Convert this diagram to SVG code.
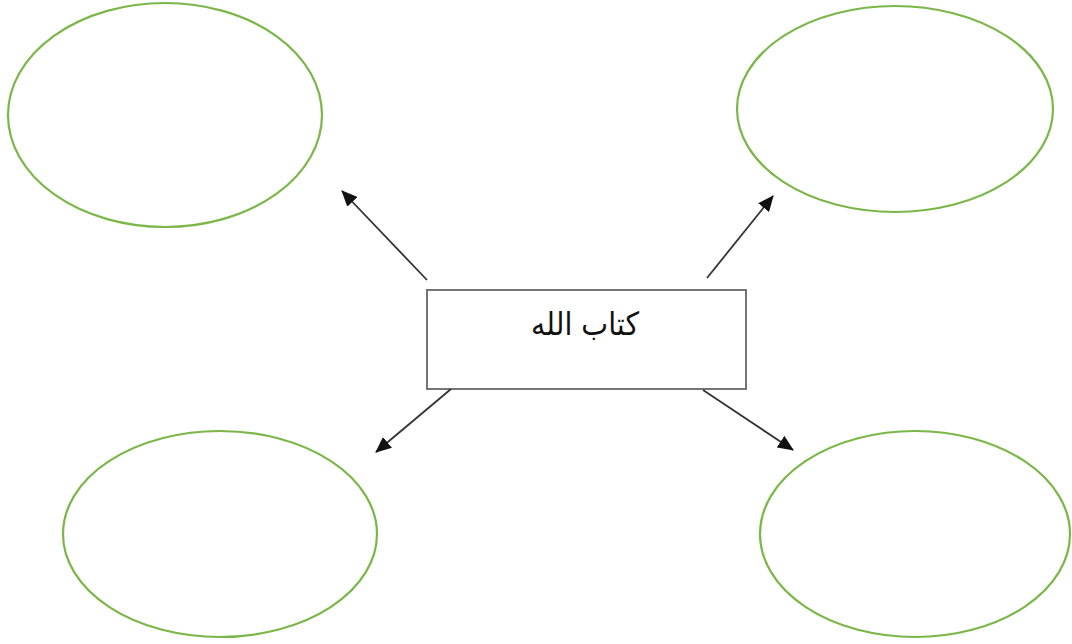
<svg xmlns="http://www.w3.org/2000/svg" width="1072" height="644" viewBox="0 0 1072 644">
<style>
.oval{fill:#fff;stroke:#7ab648;stroke-width:2.2}
.box{fill:#fff;stroke:#666;stroke-width:1.8}
.conn{stroke:#333;stroke-width:1.8;fill:none;marker-end:url(#ah)}
.lbl{font-family:"DejaVu Sans",sans-serif;font-size:32px;fill:#111}
</style>
<defs>
<marker id="ah" viewBox="0 0 16 14" refX="15" refY="7" markerWidth="16" markerHeight="14" markerUnits="userSpaceOnUse" orient="auto">
<path d="M0,0 L16,7 L0,14 z" fill="#111"/>
</marker>
</defs>
<rect width="1072" height="644" fill="#fff"/>
<g id="oval-tl"><ellipse class="oval" cx="165" cy="115" rx="157" ry="112"/></g>
<g id="oval-tr"><ellipse class="oval" cx="895" cy="109" rx="158" ry="103"/></g>
<g id="oval-bl"><ellipse class="oval" cx="220" cy="534" rx="157" ry="103"/></g>
<g id="oval-br"><ellipse class="oval" cx="915" cy="534" rx="155" ry="103"/></g>
<g id="center">
<rect class="box" x="427" y="290" width="319" height="99"/>
<text class="lbl" x="585" y="335" text-anchor="middle" direction="rtl" textLength="108" lengthAdjust="spacingAndGlyphs">كتاب الله</text>
</g>
<g id="connectors">
<line class="conn" x1="427" y1="280" x2="342" y2="191"/>
<line class="conn" x1="707" y1="278" x2="773" y2="196"/>
<line class="conn" x1="451" y1="389" x2="376" y2="452"/>
<line class="conn" x1="703" y1="390" x2="793" y2="450"/>
</g>
</svg>
